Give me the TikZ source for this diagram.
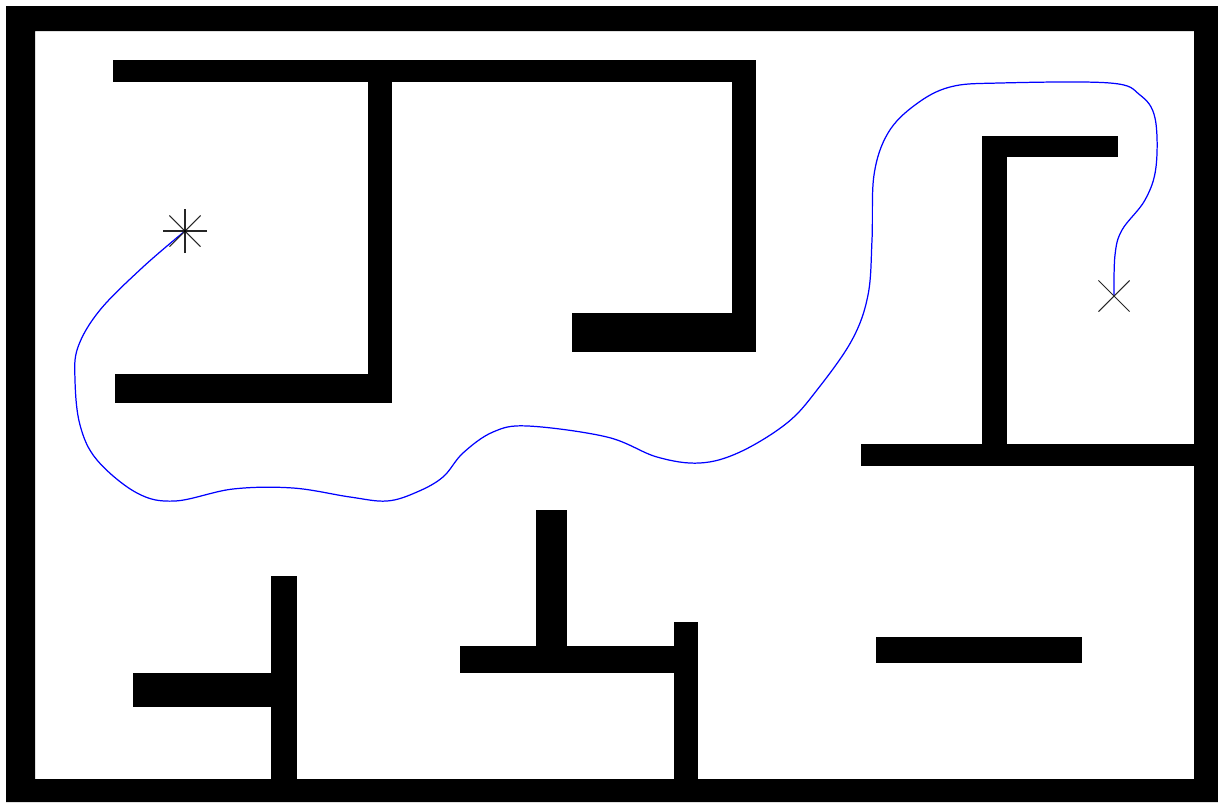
\documentclass[tikz,border=0pt]{standalone}
\usepackage{tikz}

\begin{document}
\begin{tikzpicture}[x=0.02cm, y=-0.02cm,
    wall/.style={fill=black},
    route/.style={draw={rgb,255:red,0;green,0;blue,255}, line width=0.7pt},
    marker/.style={draw=black!85, line width=0.6pt}]
    % One unit is one pixel of the map, y grows downwards
    \useasboundingbox (0,0) rectangle (1218,802);
    \def\armlen{22} % half length of a marker arm

    % Outer wall of the map
    \fill[wall, even odd rule] (6,6) rectangle (1218,802) (35,31) rectangle (1194,779);

    % Upper left rooms
    \fill[wall] (113,60) rectangle (756,82);
    \fill[wall] (368,82) rectangle (392,403);
    \fill[wall] (115,374) rectangle (368,403);
    \fill[wall] (732,82) rectangle (756,352);
    \fill[wall] (572,313) rectangle (732,352);

    % Right side
    \fill[wall] (982,136) rectangle (1118,157);
    \fill[wall] (982,157) rectangle (1007,444);
    \fill[wall] (861,444) rectangle (1194,466);
    \fill[wall] (876,637) rectangle (1082,663);

    % Lower walls
    \fill[wall] (271,576) rectangle (297,779);
    \fill[wall] (133,673) rectangle (271,707);
    \fill[wall] (536,510) rectangle (567,646);
    \fill[wall] (460,646) rectangle (698,673);
    \fill[wall] (674,622) rectangle (698,779);

    % Start and goal
    \coordinate (start) at (185,231);
    \coordinate (goal) at (1114,296);

    % Planned route
    \draw[route] plot[smooth, tension=0.6] coordinates {
        (185,231) (143,267) (100,310) (78,347) (75,380) (80,425) (97,460)
        (137,493) (175,501) (233,489) (293,488) (350,497) (387,501) (417,492)
        (443,477) (463,453) (493,432) (528,426) (607,437) (657,457) (700,463)
        (740,452) (787,423) (817,390) (852,340) (868,295) (872,240) (874,175)
        (888,133) (915,105) (950,87) (1000,83) (1110,83) (1140,95) (1155,118)
        (1156,167) (1145,200) (1122,230) (1115,255) (1114,296)};

    % Markers
    \foreach \a in {0,45,90,135}
        \draw[marker] (start) ++(\a:\armlen) -- ++(\a+180:2*\armlen);
    \foreach \a in {45,135}
        \draw[marker] (goal) ++(\a:\armlen) -- ++(\a+180:2*\armlen);
    \fill[black] (start) circle (1.5);
\end{tikzpicture}
\end{document}
